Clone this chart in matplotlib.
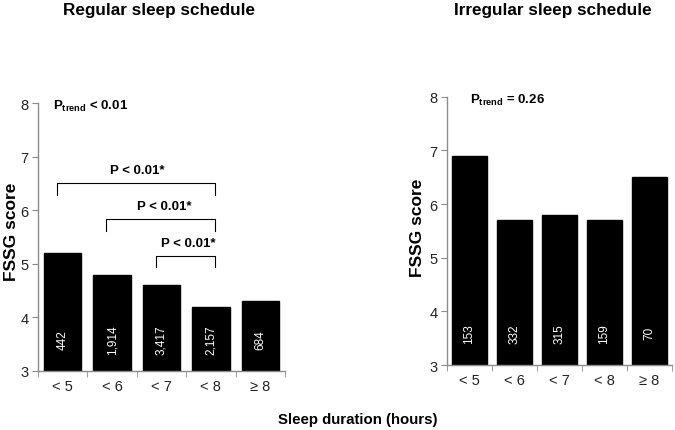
import matplotlib
matplotlib.use("Agg")
import matplotlib.pyplot as plt

plt.rcParams['font.family'] = ['Liberation Sans', 'DejaVu Sans']
plt.rcParams['mathtext.fontset'] = 'custom'
plt.rcParams['mathtext.bf'] = 'Liberation Sans:bold'
plt.rcParams['mathtext.rm'] = 'Liberation Sans'

categories = ['< 5', '< 6', '< 7', '< 8', '≥ 8']
regular_scores = [5.2, 4.8, 4.6, 4.2, 4.3]
regular_counts = ['442', '1,914', '3,417', '2,157', '684']
irregular_scores = [6.9, 5.7, 5.8, 5.7, 6.5]
irregular_counts = ['153', '332', '315', '159', '70']
titles = ['Regular sleep schedule', 'Irregular sleep schedule']
ptrend = ['< 0.01', '= 0.26']
# (left category, right category, bracket top, leg bottom, label x)
brackets = [(0, 3, 6.51, 6.29, 1.50), (1, 3, 5.83, 5.62, 2.06), (2, 3, 5.15, 4.94, 2.55)]
bracket_label = 'P < 0.01*'

fig = plt.figure(figsize=(6.75, 4.31), dpi=100)
axL = fig.add_axes([38/675, 1-372/431, (285-38)/675, (372-104)/431])
axR = fig.add_axes([447/675, 1-366/431, (672-447)/675, (366-97.7)/431])

gray = '#8c8c8c'
for ax, scores, counts in [(axL, regular_scores, regular_counts),
                           (axR, irregular_scores, irregular_counts)]:
    x = list(range(len(categories)))
    ax.bar(x, [s - 3 for s in scores], bottom=3, width=0.76, color='black', edgecolor='black')
    ax.set_ylim(3, 8)
    ax.set_xlim(-0.5, 4.5)
    ax.set_yticks([3, 4, 5, 6, 7, 8])
    ax.set_xticks(x)
    ax.set_xticklabels(categories, fontsize=10.5, color='#222222')
    ax.set_xticks([i - 0.5 for i in range(len(categories) + 1)], minor=True)
    ax.tick_params(axis='x', which='major', length=0, pad=6)
    ax.tick_params(axis='x', which='minor', length=4, color=gray, direction='out')
    ax.tick_params(axis='y', length=4, color=gray, labelsize=10.5, labelcolor='#222222', pad=3)
    for s in ['top', 'right']:
        ax.spines[s].set_visible(False)
    for s in ['left', 'bottom']:
        ax.spines[s].set_color(gray)
        ax.spines[s].set_linewidth(1.0)
    for xi, c in zip(x, counts):
        ax.text(xi, 3.6, c, rotation=90, color='white', ha='center', va='center', fontsize=8.5)

axL.text(-0.2, 7.96, r'$\mathbf{P_{trend}}$ ' + ptrend[0], fontsize=9.5,
         fontweight='bold', ha='left', va='center')
axR.text(0.0, 7.94, r'$\mathbf{P_{trend}}$ ' + ptrend[1], fontsize=9.5,
         fontweight='bold', ha='left', va='center')

for a, b, top, leg, lx in brackets:
    xa, xb = a - 0.12, b + 0.08
    axL.plot([xa, xa, xb, xb], [leg, top, top, leg], color='black', lw=0.8)
    axL.text(lx, top + 0.24, bracket_label, fontsize=9.5, fontweight='bold',
             ha='center', va='center')

fig.text(12/675, 1-232/431, 'FSSG score', rotation=90, fontsize=12.5, fontweight='bold',
         ha='center', va='center')
fig.text(418/675, 1-228/431, 'FSSG score', rotation=90, fontsize=12.5, fontweight='bold',
         ha='center', va='center')
fig.text(159/675, 1-10/431, titles[0], fontsize=12.3, fontweight='bold', ha='center', va='center')
fig.text(553/675, 1-10/431, titles[1], fontsize=12.3, fontweight='bold', ha='center', va='center')
fig.text(358/675, 1-420/431, 'Sleep duration (hours)', fontsize=10.8, fontweight='bold',
         ha='center', va='center')

fig.savefig('out.png', dpi=100)
